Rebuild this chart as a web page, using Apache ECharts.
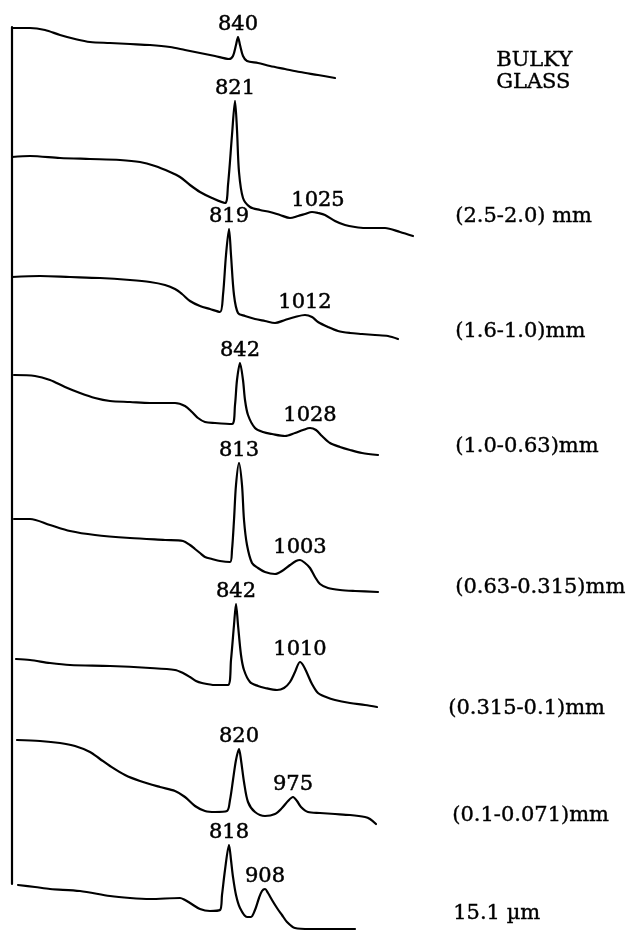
<!DOCTYPE html>
<html>
<head>
<meta charset="utf-8">
<script src="https://cdn.jsdelivr.net/npm/echarts@6/dist/echarts.min.js"></script>
<style>
html,body{margin:0;padding:0;background:#fff;}
#chart{width:632px;height:931px;}
</style>
</head>
<body>
<div id="chart"></div>
<script>
// ---- data (chart units: x = sweep position, y = trace level) ----
const sampleNames = ['BULKY\nGLASS', '(2.5-2.0) mm', '(1.6-1.0)mm', '(1.0-0.63)mm',
  '(0.63-0.315)mm', '(0.315-0.1)mm', '(0.1-0.071)mm', '15.1\u00A0\u00B5m'];

const traceBulky = [[12,28],[30,28],[45,30],[60,35],[75,39],[90,42],[110,43],[130,44],[150,45],[170,47],[185,50],[200,53],[215,56],[229,59],[233,56],[236,45],[238,37],[240,45],[243,56],[247,61],[258,63],[270,66],[285,69],[300,72],[318,75],[335,78]];
const trace25 = [[12,157],[30,156],[60,158],[90,159],[120,160],[140,162],[155,166],[170,172],[180,177],[190,185],[200,192],[212,198],[225,203],[228,185],[232,135],[235,101],[237,130],[239,172],[243,198],[250,207],[260,210],[270,212],[280,215],[290,218],[298,216],[305,214],[312,212],[318,213],[325,215],[335,221],[345,225],[355,227],[365,228],[375,228],[385,228],[400,232],[413,236]];
const trace16 = [[12,277],[40,276],[70,277],[100,278],[130,280],[150,282],[165,285],[175,289],[182,294],[190,301],[200,306],[210,309],[220,312],[223,295],[226,255],[229,229],[231,255],[234,295],[238,313],[245,316],[255,319],[265,321],[275,323],[285,320],[295,317],[305,315],[312,317],[318,322],[328,327],[338,331],[350,333],[362,334],[375,335],[388,336],[398,339]];
const trace10 = [[14,375],[35,376],[50,380],[65,387],[80,393],[95,398],[110,401],[130,402],[150,403],[175,403],[185,406],[192,412],[198,418],[205,422],[215,423],[232,424],[235,405],[237,380],[240,363],[243,380],[245,400],[248,415],[255,428],[263,432],[272,434],[285,436],[295,433],[303,430],[310,428],[316,430],[322,436],[330,443],[340,447],[350,450],[362,453],[378,455]];
const trace063 = [[14,519],[30,519],[50,525],[70,531],[95,535],[130,538],[165,540],[183,541],[190,545],[195,549],[200,553],[205,557],[212,559],[220,561],[230,562],[232,550],[234,520],[236,485],[239,463],[242,485],[244,520],[247,545],[252,563],[258,568],[265,572],[275,574],[282,571],[290,565],[296,561],[300,560],[305,563],[310,568],[315,577],[320,584],[328,588],[340,590],[355,591],[378,592]];
const trace0315 = [[16,659],[30,660],[50,663],[70,665],[110,666],[150,668],[175,670],[183,673],[190,677],[196,681],[202,683],[215,685],[228,685],[231,660],[234,625],[236,604],[238,625],[241,655],[244,670],[250,682],[258,686],[265,688],[277,690],[284,688],[290,682],[295,672],[300,662],[303,665],[307,673],[312,684],[318,693],[326,697],[335,700],[350,703],[365,705],[377,707]];
const trace01 = [[17,740],[40,741],[60,743],[75,746],[90,752],[100,759],[110,766],[125,775],[140,781],[160,787],[175,791],[185,797],[195,806],[205,811],[215,812],[227,811],[230,800],[233,780],[236,760],[239,749],[241,760],[244,782],[248,802],[255,812],[265,816],[275,814],[282,808],[288,801],[293,797],[297,801],[301,807],[308,812],[320,813],[335,814],[350,815],[365,817],[370,819],[376,824]];
const trace151 = [[18,885],[35,887],[50,889],[80,891],[110,896],[130,898],[150,899],[180,898],[185,900],[190,903],[200,909],[210,911],[220,910],[222,895],[225,870],[229,845],[231,860],[233,877],[236,895],[240,908],[247,917],[251,917],[255,910],[259,898],[262,891],[265,889],[268,893],[272,900],[277,908],[282,915],[287,922],[295,928],[310,929],[330,929],[355,929]];

// peak labels: [x of the peak point in the trace, wavenumber text]
const peaksBulky = [[238,'840']];
const peaks25 = [[235,'821'],[318,'1025']];
const peaks16 = [[229,'819'],[305,'1012']];
const peaks10 = [[240,'842'],[310,'1028']];
const peaks063 = [[239,'813'],[300,'1003']];
const peaks0315 = [[236,'842'],[300,'1010']];
const peaks01 = [[239,'820'],[293,'975']];
const peaks151 = [[229,'818'],[265,'908']];

const traces = [traceBulky, trace25, trace16, trace10, trace063, trace0315, trace01, trace151];
const peaks = [peaksBulky, peaks25, peaks16, peaks10, peaks063, peaks0315, peaks01, peaks151];

// ---- chart ----
const INK = '#000';
const chart = echarts.init(document.getElementById('chart'), null, {renderer: 'canvas'});
const series = [];
traces.forEach((tr, i) => {
  series.push({
    type: 'line', name: sampleNames[i], data: tr, showSymbol: false, symbol: 'none',
    smooth: 0.3, clip: false, silent: true,
    lineStyle: {color: INK, width: 2.2, cap: 'round', join: 'round'}
  });
  const pk = peaks[i].map(([px, txt]) => {
    const pt = tr.find(p => p[0] === px);
    return {value: pt, name: txt};
  });
  series.push({
    type: 'scatter', data: pk, symbolSize: 1, clip: false, silent: true,
    itemStyle: {color: INK, opacity: 1},
    label: {show: true, position: 'top', distance: 1, formatter: p => p.name,
      color: INK, opacity: 1, fontFamily: 'DejaVu Serif', fontSize: 21,
      textBorderColor: INK, textBorderWidth: 0.5}
  });
});

// right-hand sample labels (layout only)
const labelPos = [[496, 72], [455, 218], [455, 333], [455, 448], [455, 589], [448, 710], [452, 817], [453, 915]];
const graphics = sampleNames.map((t, i) => ({
  type: 'text', left: labelPos[i][0], top: labelPos[i][1] - (i === 0 ? 22 : 12),
  style: {text: t, fill: INK, font: '21px "DejaVu Serif"', lineHeight: 22,
    stroke: INK, lineWidth: 0.4}
}));

chart.setOption({
  backgroundColor: '#fff',
  animation: false,
  grid: {left: 12, right: 0, top: 27, bottom: 47},
  xAxis: {type: 'value', min: 12, max: 632, show: false},
  yAxis: {type: 'value', min: 27, max: 884, inverse: true,
    axisLine: {show: true, onZero: false, lineStyle: {color: INK, width: 2.2}},
    axisTick: {show: false}, axisLabel: {show: false}, splitLine: {show: false}},
  graphic: graphics,
  series: series
});
</script>
</body>
</html>
